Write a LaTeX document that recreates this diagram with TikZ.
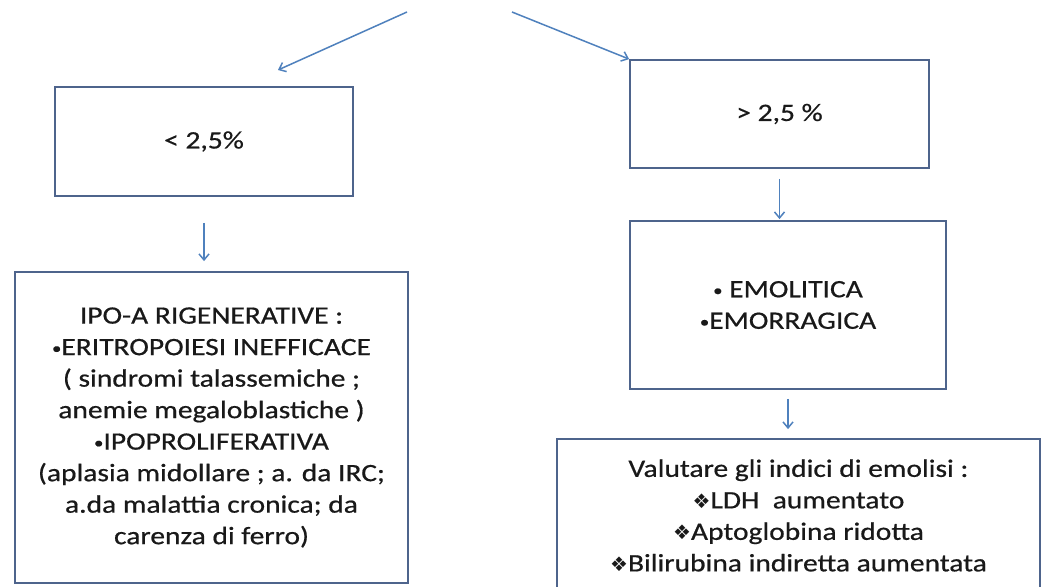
\documentclass[tikz,border=0pt]{standalone}
\usepackage{fontspec}
\setmainfont{Carlito}[FakeStretch=1.18,FakeBold=0.6]
\newfontfamily\symfont{DejaVu Sans}
\usetikzlibrary{arrows.meta}
\definecolor{boxline}{RGB}{78,100,140}
\definecolor{arrowc}{RGB}{79,129,189}
\definecolor{txt}{RGB}{25,25,25}
\newcommand{\dia}{{\symfont\fontsize{20}{20}\selectfont ❖}}
\newcommand{\bul}{{\fontsize{16}{16}\selectfont\raisebox{1.5pt}{•}}}
\tikzset{
  box/.style={draw=boxline, line width=1.8pt, align=center, text=txt,
    font=\fontsize{25}{31.5}\selectfont, inner sep=0pt},
  conn/.style={draw=arrowc, line width=1.5pt,
    -{Straight Barb[length=6pt,width=10pt,line width=1.5pt]}},
}
\begin{document}
\begin{tikzpicture}[x=1pt,y=-1pt]
\useasboundingbox (0,0) rectangle (1043,586);
\fill[white] (0,0) rectangle (1043,586);

\node[box, minimum width=298pt, minimum height=109pt] (a) at (204,141.5) {< 2,5\%};
\node[box, minimum width=299pt, minimum height=108pt] (b) at (779.5,114) {> 2,5 \%};
\node[box, minimum width=393pt, minimum height=311pt] (c) at (211.5,427.5)
  {IPO-A RIGENERATIVE :\\
   \bul ERITROPOIESI INEFFICACE\\
   ( sindromi talassemiche ;\\
   anemie megaloblastiche )\\
   \bul IPOPROLIFERATIVA\\
   (aplasia midollare ; a. da IRC;\\
   a.da malattia cronica; da\\
   carenza di ferro)};
\node[box, minimum width=316pt, minimum height=168pt] (d) at (788,305)
  {\bul\ EMOLITICA\\\bul EMORRAGICA};
\node[box, minimum width=483pt, minimum height=153pt] (e) at (798.5,515.5)
  {Valutare gli indici di emolisi :\\
   \dia LDH\ \ aumentato\\
   \dia Aptoglobina ridotta\\
   \dia Bilirubina indiretta aumentata};

\coordinate (s1) at (407,12);
\coordinate (t1) at (278,70);
\coordinate (s2) at (512,12);
\draw[conn] (s1) -- (t1);
\draw[conn] (s2) -- (b.north west);
\draw[conn, shorten <=26pt, shorten >=10pt] (a.south) -- (a.south |- c.north);
\draw[conn, shorten <=10pt, shorten >=1pt] (b.south) -- (b.south |- d.north);
\draw[conn, shorten <=9pt, shorten >=9pt] (d.south) -- (d.south |- e.north);
\end{tikzpicture}
\end{document}
